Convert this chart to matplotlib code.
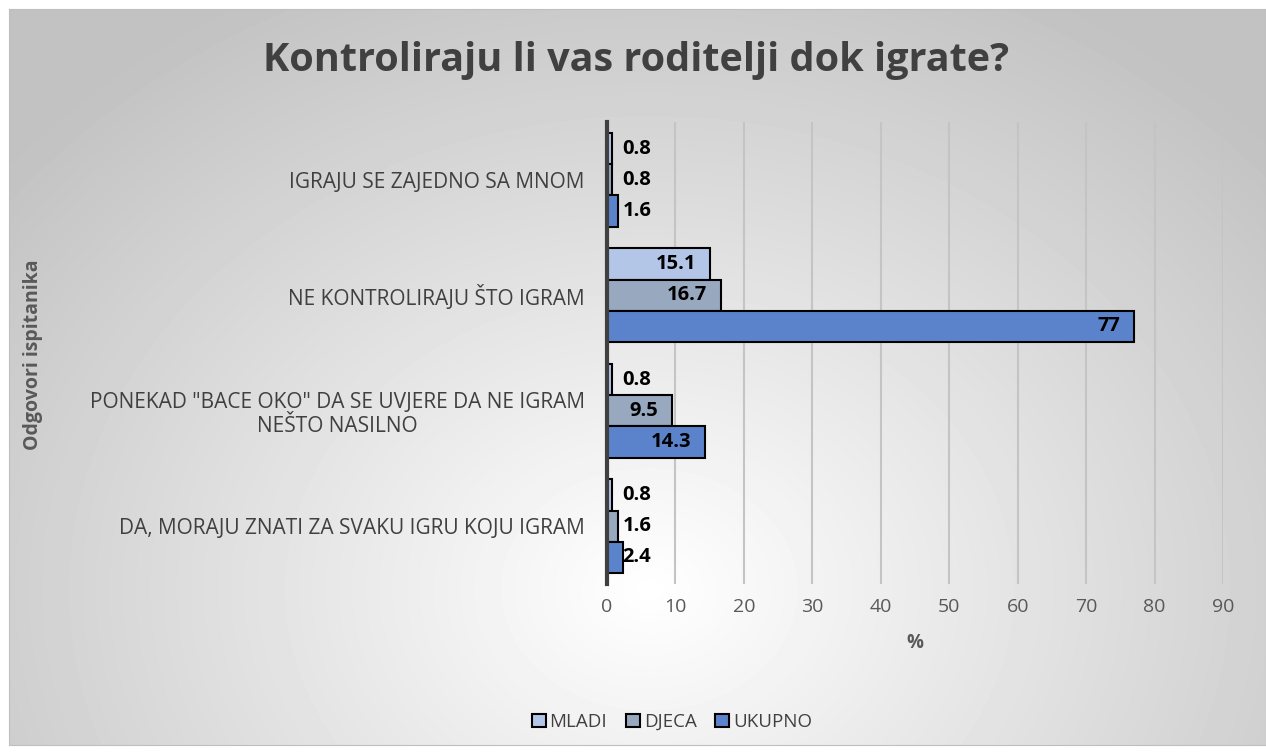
import numpy as np
import matplotlib.pyplot as plt

categories = [
    "IGRAJU SE ZAJEDNO SA MNOM",
    "NE KONTROLIRAJU ŠTO IGRAM",
    "PONEKAD \"BACE OKO\" DA SE UVJERE DA NE IGRAM\nNEŠTO NASILNO",
    "DA, MORAJU ZNATI ZA SVAKU IGRU KOJU IGRAM",
]
mladi = [0.8, 15.1, 0.8, 0.8]
djeca = [0.8, 16.7, 9.5, 1.6]
ukupno = [1.6, 77, 14.3, 2.4]
series = [("MLADI", mladi, "#B4C6E7"), ("DJECA", djeca, "#97A8BF"), ("UKUPNO", ukupno, "#5B83CB")]

plt.rcParams['font.family'] = ['Open Sans', 'DejaVu Sans']
grey = "#595959"
dark = "#404040"

fig = plt.figure(figsize=(12.66, 7.53), dpi=100)

# radial gradient background
bg = fig.add_axes([9 / 1266, 1 - 745 / 753, 1 - 9 / 1266, 736 / 753], zorder=-10)
yy, xx = np.mgrid[0:736, 0:1257]
r = np.sqrt(((xx - 640) / 760.0) ** 2 + ((yy - 580) / 620.0) ** 2)
shade = 1.0 - 0.22 * np.clip(r, 0, 1.1)
bg.imshow(shade, cmap="gray", vmin=0, vmax=1, aspect="auto", interpolation="bilinear")
bg.set_xticks([])
bg.set_yticks([])
for s in bg.spines.values():
    s.set_color("#BFBFBF")

ax = fig.add_axes([607 / 1266, 1 - 584 / 753, (1223 - 607) / 1266, (584 - 122) / 753])
ax.patch.set_alpha(0)

h = 0.27
pos = np.arange(len(categories))
for i, (name, vals, col) in enumerate(series):
    y = pos + (i - 1) * h
    bars = ax.barh(y, vals, height=h, color=col, edgecolor="black", linewidth=1.5, label=name, zorder=3)
    for b, v in zip(bars, vals):
        yc = b.get_y() + b.get_height() / 2
        txt = f"{v:g}"
        if v > 5:
            ax.annotate(txt, (v, yc), xytext=(-10, 0), textcoords="offset points",
                        ha="right", va="center", fontsize=14.5, fontweight="bold", zorder=4)
        else:
            ax.annotate(txt, (0, yc), xytext=(11, 0), textcoords="offset points",
                        ha="left", va="center", fontsize=14.5, fontweight="bold", zorder=4)

ax.set_xlim(0, 90)
ax.set_ylim(3.5, -0.5)
ax.set_xticks(range(0, 91, 10))
ax.set_yticks(pos)
ax.set_yticklabels(categories, ha="right", multialignment="center", color=dark)
ax.tick_params(axis="both", length=0, labelsize=14)
ax.tick_params(axis="x", colors=grey, pad=10)
ax.tick_params(axis="y", labelsize=15, pad=16)
ax.grid(axis="x", color="#C4C4C4", linewidth=1.5, zorder=0)
for s in ["top", "right", "bottom"]:
    ax.spines[s].set_visible(False)
ax.spines["left"].set_color("#404040")
ax.spines["left"].set_linewidth(3)
ax.spines["left"].set_zorder(5)

ax.set_xlabel("%", fontsize=13.5, fontweight="bold", color=grey, labelpad=12)
fig.text(33 / 1266, 1 - 355 / 753, "Odgovori ispitanika", rotation=90, ha="center", va="center",
         fontsize=14, fontweight="bold", color=grey)
fig.text(636 / 1266, 1 - 60 / 753, "Kontroliraju li vas roditelji dok igrate?", ha="center", va="center",
         fontsize=28.5, fontweight="bold", color=dark)

fig.legend(loc="center", bbox_to_anchor=(672 / 1266, 1 - 722 / 753), ncol=3, frameon=False,
           fontsize=13.5, handlelength=0.75, handleheight=0.75, handletextpad=0.2, columnspacing=1.0,
           labelcolor=dark)

fig.savefig("out.png", dpi=100)
